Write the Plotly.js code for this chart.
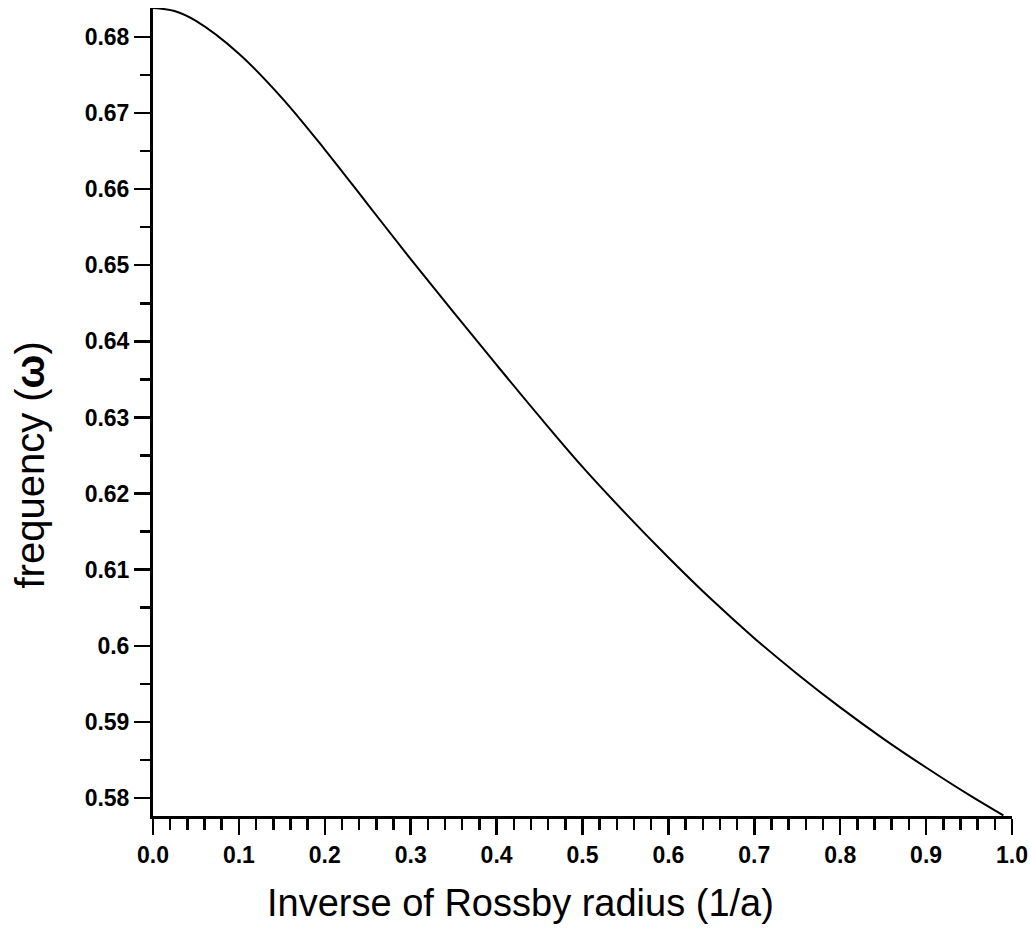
<!DOCTYPE html>
<html>
<head>
<meta charset="utf-8">
<script src="https://cdn.plot.ly/plotly-3.0.1.min.js"></script>
<style>
  html, body { margin: 0; padding: 0; background: #fff; }
  #chart { width: 1031px; height: 941px; }
</style>
</head>
<body>
<div id="chart"></div>
<script>
// Dispersion curve: frequency versus inverse Rossby radius
const inverseRadius = [0.0, 0.025, 0.05, 0.1, 0.15, 0.2, 0.25, 0.3, 0.35, 0.4, 0.45, 0.5,
                       0.55, 0.6, 0.65, 0.7, 0.75, 0.8, 0.85, 0.9, 0.95, 0.99];
const frequency = [0.6838, 0.6834, 0.6821, 0.6778, 0.6720, 0.6652, 0.6580, 0.6508, 0.6438,
                   0.6369, 0.6301, 0.6235, 0.6174, 0.6116, 0.6061, 0.6010, 0.5963,
                   0.5919, 0.5878, 0.5840, 0.5804, 0.5777];

const xTickVals = [0, 0.1, 0.2, 0.3, 0.4, 0.5, 0.6, 0.7, 0.8, 0.9, 1.0];
const xTickText = ['0.0', '0.1', '0.2', '0.3', '0.4', '0.5', '0.6', '0.7', '0.8', '0.9', '1.0'];
const yTickVals = [0.58, 0.59, 0.6, 0.61, 0.62, 0.63, 0.64, 0.65, 0.66, 0.67, 0.68];
const yTickText = ['0.58', '0.59', '0.6', '0.61', '0.62', '0.63', '0.64', '0.65', '0.66', '0.67', '0.68'];

const FONT = '"Liberation Sans", Arial, Helvetica, sans-serif';
const TICK_FONT = { family: FONT, size: 23, color: '#000', weight: 'bold' };

const trace = {
  x: inverseRadius,
  y: frequency,
  type: 'scatter',
  mode: 'lines',
  line: { color: '#000', width: 2, shape: 'spline', smoothing: 1 },
  hoverinfo: 'x+y'
};

const layout = {
  width: 1031,
  height: 941,
  margin: { l: 153, r: 19, t: 8, b: 125 },
  paper_bgcolor: '#fff',
  plot_bgcolor: '#fff',
  showlegend: false,
  font: { family: FONT, color: '#000' },
  xaxis: {
    range: [0, 1.0],
    showgrid: false,
    zeroline: false,
    showline: true,
    linecolor: '#000',
    linewidth: 3,
    ticks: 'outside',
    ticklen: 16,
    tickwidth: 2.5,
    tickcolor: '#000',
    tickmode: 'array',
    tickvals: xTickVals,
    ticktext: xTickText,
    tickfont: TICK_FONT,
    minor: { tickmode: 'linear', tick0: 0, dtick: 0.02, ticks: 'outside', ticklen: 11, tickwidth: 2.5, tickcolor: '#000', showgrid: false }
  },
  yaxis: {
    range: [0.57763, 0.6838],
    showgrid: false,
    zeroline: false,
    showline: true,
    linecolor: '#000',
    linewidth: 3,
    ticks: 'outside',
    ticklen: 16,
    tickwidth: 2.5,
    tickcolor: '#000',
    tickmode: 'array',
    tickvals: yTickVals,
    ticktext: yTickText,
    tickfont: TICK_FONT,
    minor: { tickmode: 'linear', tick0: 0.575, dtick: 0.005, ticks: 'outside', ticklen: 10, tickwidth: 2.5, tickcolor: '#000', showgrid: false }
  },
  annotations: [
    {
      text: 'Inverse of Rossby radius (1/a)',
      xref: 'paper', yref: 'paper',
      x: 0.4284, y: -0.1077,
      xanchor: 'center', yanchor: 'middle',
      showarrow: false,
      font: { family: FONT, size: 38, color: '#000' }
    },
    {
      text: 'frequency (<b>ω</b>)',
      xref: 'paper', yref: 'paper',
      x: -0.1432, y: 0.435,
      xanchor: 'center', yanchor: 'middle',
      textangle: -90,
      showarrow: false,
      font: { family: FONT, size: 40, color: '#000' }
    }
  ]
};

Plotly.newPlot('chart', [trace], layout, { displayModeBar: false, staticPlot: true });
</script>
</body>
</html>
